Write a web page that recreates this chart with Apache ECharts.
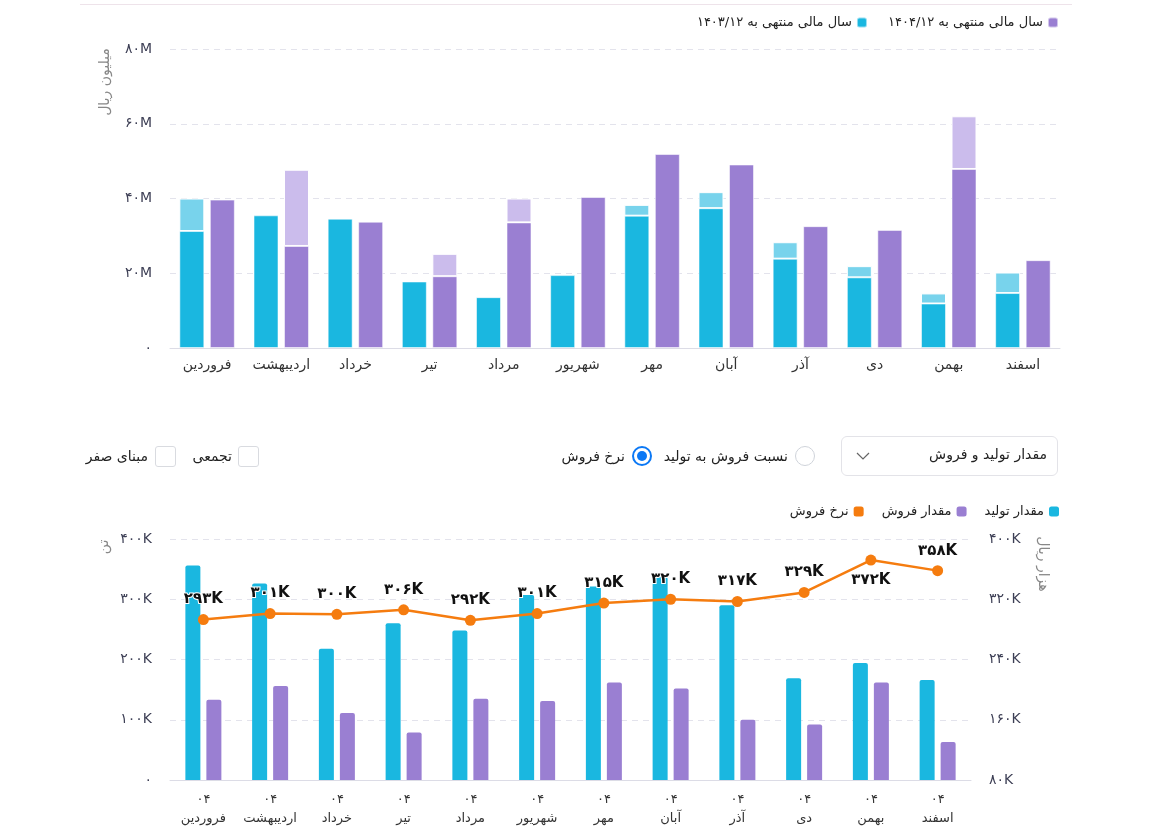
<!DOCTYPE html>
<html lang="fa">
<head>
<meta charset="utf-8">
<title>گزارش فروش</title>
<script src="https://cdn.jsdelivr.net/npm/echarts@6/dist/echarts.min.js"></script>
<style>
  html, body { margin: 0; padding: 0; background: #fff; }
  body { width: 1152px; height: 832px; position: relative; overflow: hidden;
         font-family: "DejaVu Sans", "Noto Sans", sans-serif; color: #222; }
  #chart { position: absolute; left: 0; top: 0; width: 1152px; height: 832px; }
  .topline { position: absolute; left: 80px; top: 0; width: 992px; height: 4px;
             border-bottom: 1px solid #eee3ea; background: #fff; }
  .ctrl { position: absolute; font-size: 14px; direction: rtl; line-height: 20px; }
  .select { position: absolute; left: 841px; top: 436px; width: 215px; height: 38px;
            border: 1px solid #e3e3e8; border-radius: 6px; }
  .select span { position: absolute; right: 10px; top: 9px; font-size: 14px; direction: rtl; }
  .select svg { position: absolute; left: 14px; top: 14px; }
  .radio { position: absolute; width: 18px; height: 18px; border: 1px solid #cfd3da; border-radius: 50%; }
  .radio.on { border: 2px solid #0b78f5; width: 16px; height: 16px; }
  .radio.on::after { content: ""; position: absolute; left: 3px; top: 3px; width: 10px; height: 10px;
                     border-radius: 50%; background: #0b78f5; }
  .box { position: absolute; width: 19px; height: 19px; border: 1px solid #d9dbe0; border-radius: 3px; }
</style>
</head>
<body>
<div id="chart"></div>
<div class="topline"></div>

<!-- کنترل‌های نمودار پایین -->
<div class="select"><span>مقدار تولید و فروش</span>
  <svg width="14" height="10" viewBox="0 0 14 10"><polyline points="1,2 7,8 13,2" fill="none" stroke="#666" stroke-width="1.2"/></svg>
</div>
<div class="radio" style="left:795px;top:446px"></div>
<div class="ctrl" style="right:364px;top:446px">نسبت فروش به تولید</div>
<div class="radio on" style="left:632px;top:446px"></div>
<div class="ctrl" style="right:527px;top:446px">نرخ فروش</div>
<div class="box" style="left:238px;top:446px"></div>
<div class="ctrl" style="right:920px;top:446px">تجمعی</div>
<div class="box" style="left:155px;top:446px"></div>
<div class="ctrl" style="right:1004px;top:446px">مبنای صفر</div>

<script>
// ماه‌ها
const months = ['فروردین', 'اردیبهشت', 'خرداد', 'تیر', 'مرداد', 'شهریور', 'مهر', 'آبان', 'آذر', 'دی', 'بهمن', 'اسفند']

// نمودار بالا - میلیون ریال
const fy1403Base = [31.3, 35.5, 34.6, 17.8, 13.6, 19.5, 35.4, 37.4, 23.9, 18.9, 11.9, 14.7]
const fy1403Extra = [8.7, 0, 0, 0, 0, 0, 2.9, 4.3, 4.4, 3.0, 2.7, 5.5]
const fy1404Base = [39.7, 27.3, 33.8, 19.2, 33.6, 40.4, 51.9, 49.1, 32.6, 31.6, 47.9, 23.5]
const fy1404Extra = [0, 20.4, 0, 6.0, 6.4, 0, 0, 0, 0, 0, 14.1, 0]

// نمودار پایین - هزار تن و هزار ریال
const production = [356, 326, 218, 260, 248, 307, 321, 337, 290, 169, 194, 166]
const sales = [133, 156, 111, 79, 135, 131, 162, 152, 100, 92, 162, 63]
const saleRate = [293, 301, 300, 306, 292, 301, 315, 320, 317, 329, 372, 358]

const name1403 = 'سال مالی منتهی به ۱۴۰۳/۱۲'
const name1404 = 'سال مالی منتهی به ۱۴۰۴/۱۲'

const CYAN = '#1ab7e0'
const CYAN_L = '#78d3ec'
const PURPLE = '#9a7fd2'
const PURPLE_L = '#cbbcec'
const ORANGE = '#f57c0f'
const FONT = '"DejaVu Sans", "Noto Sans", sans-serif'

function toFa (v) {
  return String(v).replace(/\d/g, d => '۰۱۲۳۴۵۶۷۸۹'[d])
}
const mil = arr => arr.map(v => (v ? v * 1e6 : '-'))
const kilo = arr => arr.map(v => v * 1000)

const axisLabel = { color: '#3d3f55', fontSize: 14, fontFamily: FONT }
const splitLine = { show: true, lineStyle: { color: '#e3e3ec', type: [6, 5] } }
const legendText = { fontSize: 13, color: '#222', fontFamily: FONT }

const chart = echarts.init(document.getElementById('chart'))
chart.setOption({
  animation: false,
  textStyle: { fontFamily: FONT },
  grid: [
    { left: 170, right: 92, top: 49, bottom: 484 },
    { left: 170, right: 181, top: 539, bottom: 52 }
  ],
  legend: [
    {
      data: [name1403, name1404],
      right: 88, top: 11, align: 'right', icon: 'roundRect',
      itemWidth: 10, itemHeight: 10, itemGap: 20, textStyle: legendText
    },
    {
      data: ['نرخ فروش', 'مقدار فروش', 'مقدار تولید'],
      right: 88, top: 500, align: 'right', icon: 'roundRect',
      itemWidth: 10, itemHeight: 10, itemGap: 18, textStyle: legendText
    }
  ],
  xAxis: [
    {
      type: 'category', gridIndex: 0, data: months,
      axisTick: { show: false },
      axisLine: { lineStyle: { color: '#dcdce6' } },
      axisLabel: { ...axisLabel, fontSize: 14, color: '#333', margin: 10, interval: 0 }
    },
    {
      type: 'category', gridIndex: 1, data: months,
      axisTick: { show: false },
      axisLine: { lineStyle: { color: '#dcdce6' } },
      axisLabel: { ...axisLabel, fontSize: 13, color: '#333', margin: 10, lineHeight: 19, interval: 0,
        formatter: v => '۰۴\n' + v }
    }
  ],
  yAxis: [
    {
      type: 'value', gridIndex: 0, min: 0, max: 80e6, interval: 20e6,
      axisLine: { show: false }, axisTick: { show: false }, splitLine,
      axisLabel: { ...axisLabel, margin: 18, formatter: v => (v === 0 ? '۰' : toFa(v / 1e6) + 'M') }
    },
    {
      type: 'value', gridIndex: 1, min: 0, max: 400000, interval: 100000,
      axisLine: { show: false }, axisTick: { show: false }, splitLine,
      axisLabel: { ...axisLabel, margin: 18, formatter: v => (v === 0 ? '۰' : toFa(v / 1000) + 'K') }
    },
    {
      type: 'value', gridIndex: 1, position: 'right', min: 80000, max: 400000, interval: 80000,
      axisLine: { show: false }, axisTick: { show: false }, splitLine: { show: false },
      axisLabel: { ...axisLabel, margin: 18, formatter: v => toFa(v / 1000) + 'K' }
    }
  ],
  graphic: [
    { type: 'text', x: 105, y: 82, rotation: Math.PI / 2,
      style: { text: 'میلیون ریال', fill: '#888', font: '14px ' + FONT, align: 'center', verticalAlign: 'middle' } },
    { type: 'text', x: 104, y: 547, rotation: Math.PI / 2,
      style: { text: 'تن', fill: '#888', font: '14px ' + FONT, align: 'center', verticalAlign: 'middle' } },
    { type: 'text', x: 1043, y: 564, rotation: -Math.PI / 2,
      style: { text: 'هزار ریال', fill: '#888', font: '14px ' + FONT, align: 'center', verticalAlign: 'middle' } }
  ],
  series: [
    {
      name: name1403, type: 'bar', stack: 'a', xAxisIndex: 0, yAxisIndex: 0,
      data: mil(fy1403Base), barWidth: 25, barGap: '22%',
      itemStyle: { color: CYAN, borderColor: 'rgba(255,255,255,0.55)', borderWidth: 1 }
    },
    {
      name: name1403 + ' ', type: 'bar', stack: 'a', xAxisIndex: 0, yAxisIndex: 0,
      data: mil(fy1403Extra), barWidth: 25,
      itemStyle: { color: CYAN_L, borderColor: '#fff', borderWidth: 1 }
    },
    {
      name: name1404, type: 'bar', stack: 'b', xAxisIndex: 0, yAxisIndex: 0,
      data: mil(fy1404Base), barWidth: 25,
      itemStyle: { color: PURPLE, borderColor: 'rgba(255,255,255,0.55)', borderWidth: 1 }
    },
    {
      name: name1404 + ' ', type: 'bar', stack: 'b', xAxisIndex: 0, yAxisIndex: 0,
      data: mil(fy1404Extra), barWidth: 25,
      itemStyle: { color: PURPLE_L, borderColor: '#fff', borderWidth: 1 }
    },
    {
      name: 'مقدار تولید', type: 'bar', xAxisIndex: 1, yAxisIndex: 1,
      data: kilo(production), barWidth: 15, barGap: '40%',
      itemStyle: { color: CYAN, borderRadius: [2, 2, 0, 0] }
    },
    {
      name: 'مقدار فروش', type: 'bar', xAxisIndex: 1, yAxisIndex: 1,
      data: kilo(sales), barWidth: 15,
      itemStyle: { color: PURPLE, borderRadius: [2, 2, 0, 0] }
    },
    {
      name: 'نرخ فروش', type: 'line', xAxisIndex: 1, yAxisIndex: 2, z: 5,
      data: saleRate.map((v, i) => ({
        value: v * 1000,
        label: { position: i === 10 ? 'bottom' : 'top' }
      })),
      symbol: 'circle', symbolSize: 11,
      lineStyle: { color: ORANGE, width: 2.5 },
      itemStyle: { color: ORANGE },
      label: {
        show: true, distance: 7, fontSize: 15, fontWeight: 'bold', color: '#111',
        textBorderColor: '#fff', textBorderWidth: 2, fontFamily: FONT,
        formatter: p => toFa(Math.round(p.value / 1000)) + 'K'
      }
    }
  ]
})
</script>
</body>
</html>
